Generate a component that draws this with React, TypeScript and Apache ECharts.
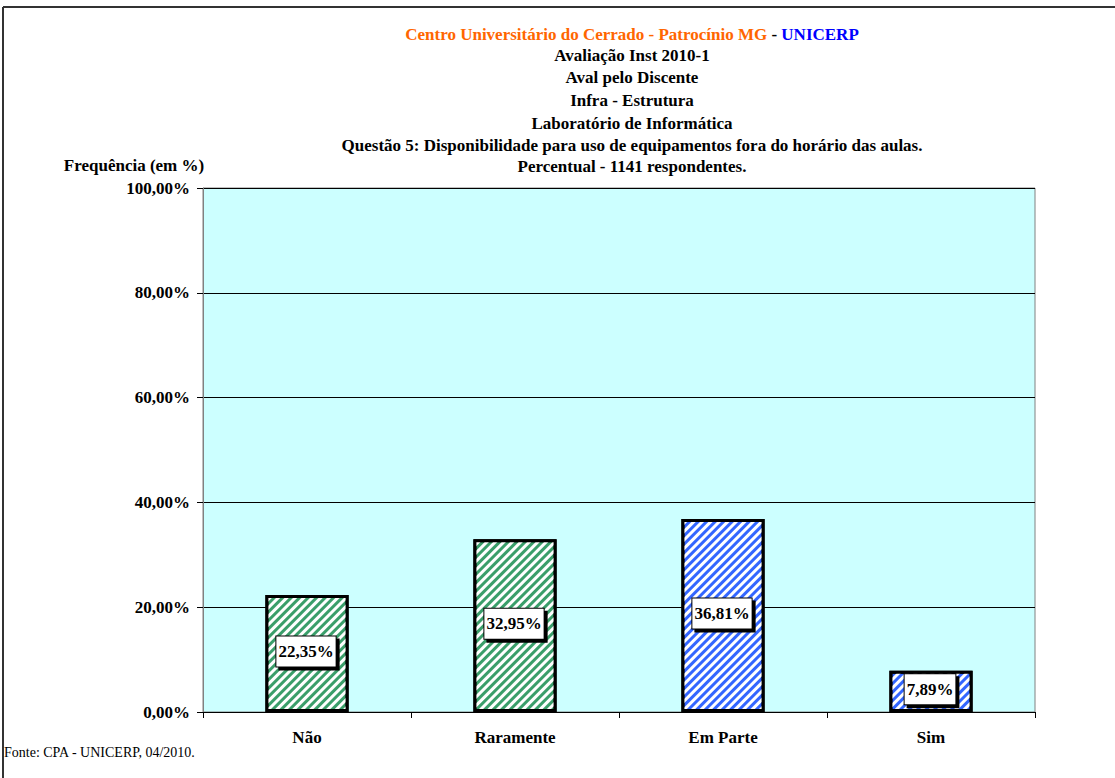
import React, { useEffect, useRef } from "react";
import * as echarts from "echarts";

const categories = ["Não", "Raramente", "Em Parte", "Sim"];
const values = [22.35, 32.95, 36.81, 7.89];
const barColors = ["#3a9e6a", "#3a9e6a", "#3366ff", "#3366ff"];
const yTicks = { min: 0, max: 100, interval: 20 };
const titleLines = [
  "Avaliação Inst 2010-1",
  "Aval pelo Discente",
  "Infra - Estrutura",
  "Laboratório de Informática",
  "Questão 5: Disponibilidade para uso de equipamentos fora do horário das aulas.",
  "Percentual - 1141 respondentes.",
];
const titleY = [55, 77, 100, 123, 145, 166];
const FONT = "Liberation Serif";

const fmt = (v: number) => v.toFixed(2).replace(".", ",") + "%";

export default function App() {
  const ref = useRef<HTMLDivElement>(null);
  useEffect(() => {
    if (!ref.current) return;
    const chart = echarts.init(ref.current, undefined, { renderer: "svg" });
    const titleX = 632;
    const tStyle = { fontFamily: FONT, fontWeight: "bold", fontSize: 17 };
    chart.setOption({
      animation: false,
      backgroundColor: "#ffffff",
      grid: {
        left: 203,
        top: 188,
        right: 80,
        bottom: 66,
        show: true,
        backgroundColor: "#ccffff",
        borderColor: "#808080",
        borderWidth: 1,
      },
      xAxis: {
        type: "category",
        data: categories,
        axisLine: { show: true, lineStyle: { color: "#000", width: 1 } },
        axisTick: { show: true, length: 6, lineStyle: { color: "#000" } },
        axisLabel: {
          color: "#000",
          fontFamily: FONT,
          fontWeight: "bold",
          fontSize: 17,
          margin: 17,
        },
      },
      yAxis: {
        type: "value",
        min: yTicks.min,
        max: yTicks.max,
        interval: yTicks.interval,
        axisLine: { show: true, lineStyle: { color: "#808080" } },
        axisTick: { show: true, length: 6, lineStyle: { color: "#000" } },
        splitLine: { show: true, lineStyle: { color: "#000", width: 1 } },
        axisLabel: {
          color: "#000",
          fontFamily: FONT,
          fontWeight: "bold",
          fontSize: 17,
          margin: 13,
          formatter: (v: number) => fmt(v),
        },
      },
      series: [
        {
          type: "bar",
          barCategoryGap: "60%",
          data: values.map((v, i) => ({
            value: v,
            itemStyle: {
              color: barColors[i],
              decal: {
                symbol: "rect",
                color: "#ffffff",
                dashArrayX: [1, 0],
                dashArrayY: [3, 3],
                symbolSize: 1,
                rotation: -Math.PI / 4,
              },
            },
          })),
          itemStyle: { borderColor: "#000", borderWidth: 3 },
          label: {
            show: true,
            position: "inside",
            offset: [-1, -2],
            formatter: (p: any) => fmt(p.value),
            color: "#000",
            fontFamily: FONT,
            fontWeight: "bold",
            fontSize: 17,
            lineHeight: 18,
            backgroundColor: "#ffffff",
            borderColor: "#000",
            borderWidth: 1,
            padding: [6, 2, 6, 2],
            shadowColor: "#000",
            shadowBlur: 0,
            shadowOffsetX: 3,
            shadowOffsetY: 3,
          },
        },
      ],
      graphic: [
        {
          type: "line",
          shape: { x1: 3, y1: 7, x2: 3, y2: 778 },
          style: { stroke: "#333", lineWidth: 2 },
        },
        {
          type: "line",
          shape: { x1: 3, y1: 7, x2: 1115, y2: 7 },
          style: { stroke: "#333", lineWidth: 2 },
        },
        {
          type: "text",
          x: titleX,
          y: 34,
          style: {
            text: "{o|Centro Universitário do Cerrado - Patrocínio MG} {k|-} {b|UNICERP}",
            align: "center",
            verticalAlign: "middle",
            ...tStyle,
            fill: "#000",
            rich: {
              o: { fill: "#ff6600", ...tStyle },
              k: { fill: "#000000", ...tStyle },
              b: { fill: "#0000ff", ...tStyle },
            },
          },
        },
        ...titleLines.map((t, i) => ({
          type: "text",
          x: titleX,
          y: titleY[i],
          style: {
            text: t,
            align: "center",
            verticalAlign: "middle",
            fill: "#000",
            ...tStyle,
          },
        })),
        {
          type: "text",
          x: 134,
          y: 165,
          style: {
            text: "Frequência (em %)",
            align: "center",
            verticalAlign: "middle",
            fill: "#000",
            ...tStyle,
          },
        },
        {
          type: "text",
          x: 4,
          y: 752,
          style: {
            text: "Fonte: CPA - UNICERP, 04/2010.",
            align: "left",
            verticalAlign: "middle",
            fill: "#000",
            fontFamily: FONT,
            fontSize: 14,
          },
        },
      ],
    });
    return () => chart.dispose();
  }, []);
  return (
    <div
      ref={ref}
      style={{ position: "fixed", left: 0, top: 0, width: 1115, height: 778 }}
    />
  );
}
